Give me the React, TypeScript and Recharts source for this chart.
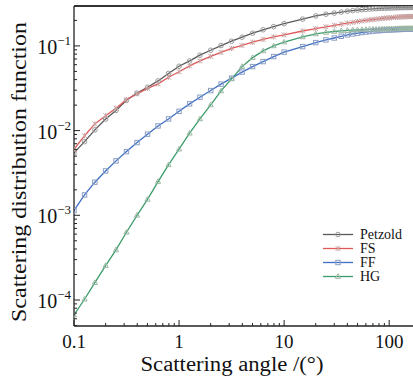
import { Line, LineChart, ReferenceLine, XAxis, YAxis } from "recharts";

// scattering angle (degrees)
const angles = [
    0.1, 0.126, 0.158, 0.2, 0.251, 0.316, 0.398, 0.501, 0.631, 0.794,
    1, 1.26, 1.58, 2, 2.51, 3.16, 3.98, 5.01, 6.31, 7.94,
    10, 15, 20, 25, 30, 35, 40, 45, 50, 55, 60, 65, 70, 75, 80, 85, 90, 95,
    100, 105, 110, 115, 120, 125, 130, 135, 140, 145, 150, 155, 160, 165, 170, 175, 180,
];

const petzold = [
    0.00545, 0.0074, 0.0102, 0.0137, 0.0173, 0.0228, 0.0277, 0.0325, 0.0386, 0.0473,
    0.0575, 0.0665, 0.0777, 0.0889, 0.101, 0.1136, 0.1267, 0.1413, 0.155, 0.169,
    0.183, 0.207, 0.226, 0.237, 0.244, 0.251, 0.257, 0.261, 0.265, 0.268, 0.270, 0.272, 0.274, 0.2755, 0.277, 0.278, 0.279, 0.2798,
    0.2805, 0.281, 0.2815, 0.282, 0.2824, 0.2828, 0.2832, 0.2835, 0.2838, 0.284, 0.2842, 0.2844, 0.2846, 0.2847, 0.2848, 0.2849, 0.285,
];

const fs = [
    0.006, 0.0087, 0.012, 0.015, 0.0184, 0.0232, 0.0272, 0.0315, 0.0356, 0.0427,
    0.0495, 0.058, 0.0665, 0.0752, 0.0838, 0.0934, 0.1013, 0.1106, 0.1193, 0.1277,
    0.1348, 0.150, 0.160, 0.168, 0.175, 0.181, 0.186, 0.190, 0.194, 0.197, 0.200, 0.203, 0.205, 0.207, 0.209, 0.211, 0.212, 0.214,
    0.215, 0.216, 0.217, 0.218, 0.219, 0.2195, 0.220, 0.2205, 0.221, 0.2215, 0.222, 0.2223, 0.2226, 0.2228, 0.223, 0.2231, 0.2232,
];

const ff = [
    0.00114, 0.00174, 0.00246, 0.00334, 0.00439, 0.00565, 0.00722, 0.00907, 0.01136, 0.01374,
    0.0169, 0.0207, 0.0248, 0.0297, 0.0354, 0.0416, 0.0491, 0.057, 0.0653, 0.0749,
    0.0845, 0.0982, 0.1094, 0.1177, 0.124, 0.130, 0.135, 0.1385, 0.1415, 0.144, 0.146, 0.1478, 0.1493, 0.1505, 0.1516, 0.1525, 0.1533, 0.154,
    0.1546, 0.1551, 0.1555, 0.1559, 0.1562, 0.1565, 0.1567, 0.1569, 0.1571, 0.1573, 0.1574, 0.1575, 0.1576, 0.1577, 0.1577, 0.1578, 0.1578,
];

const hg = [
    0.0000667, 0.000102, 0.00016, 0.000255, 0.00039, 0.00063, 0.001, 0.00154, 0.0025, 0.00394,
    0.00603, 0.00931, 0.01374, 0.0201, 0.0294, 0.0408, 0.057, 0.0727, 0.0873, 0.1,
    0.111, 0.1277, 0.1386, 0.1442, 0.148, 0.1505, 0.1524, 0.1537, 0.1547, 0.1555, 0.1562, 0.1568, 0.1573, 0.1577, 0.158, 0.1583, 0.1586, 0.1588,
    0.159, 0.1592, 0.1594, 0.1596, 0.1598, 0.1599, 0.16, 0.1601, 0.1602, 0.1603, 0.1604, 0.1605, 0.1606, 0.1607, 0.1608, 0.1609, 0.161,
];

const xTicks = [
    0.1, 0.2, 0.3, 0.4, 0.5, 0.6, 0.7, 0.8, 0.9,
    1, 2, 3, 4, 5, 6, 7, 8, 9,
    10, 20, 30, 40, 50, 60, 70, 80, 90, 100,
];
const xTickLabels: Record<string, string> = { "0.1": "0.1", "1": "1", "10": "10", "100": "100" };

const yTicks = [
    0.00005, 0.00006, 0.00007, 0.00008, 0.00009,
    0.0001, 0.0002, 0.0003, 0.0004, 0.0005, 0.0006, 0.0007, 0.0008, 0.0009,
    0.001, 0.002, 0.003, 0.004, 0.005, 0.006, 0.007, 0.008, 0.009,
    0.01, 0.02, 0.03, 0.04, 0.05, 0.06, 0.07, 0.08, 0.09,
    0.1, 0.2,
];
const yTickExponents: Record<string, string> = { "0.0001": "−4", "0.001": "−3", "0.01": "−2", "0.1": "−1" };

const series = [
    { key: "petzold", name: "Petzold", line: "#595959", mark: "#9a9a9a", shape: "circle" },
    { key: "fs", name: "FS", line: "#e05a5a", mark: "#c9a3a3", shape: "cross" },
    { key: "ff", name: "FF", line: "#3d6fc4", mark: "#8b9dc4", shape: "square" },
    { key: "hg", name: "HG", line: "#3c9d6c", mark: "#9cb8a4", shape: "triangle" },
];

const data = angles.map((a, i) => ({
    angle: a,
    petzold: petzold[i],
    fs: fs[i],
    ff: ff[i],
    hg: hg[i],
}));

const W = 420;
const H = 382;
const LEFT = 74;
const TOP = 6;
const BOTTOM = 326;
const Y_MIN = 0.0000493;
const Y_MAX = 0.296;
const FONT = "Liberation Serif, serif";
const serif = { fontFamily: FONT };

function Marker({ x, y, shape, color }: { x: number; y: number; shape: string; color: string }) {
    if (shape === "circle") {
        return <circle cx={x} cy={y} r={2.3} fill="none" stroke={color} strokeWidth={1} />;
    }
    if (shape === "square") {
        return <rect x={x - 2.2} y={y - 2.2} width={4.4} height={4.4} fill="none" stroke={color} strokeWidth={1} />;
    }
    if (shape === "triangle") {
        return (
            <polygon
                points={`${x},${y - 2.8} ${x - 2.6},${y + 1.8} ${x + 2.6},${y + 1.8}`}
                fill="none"
                stroke={color}
                strokeWidth={1}
            />
        );
    }
    return (
        <g stroke={color} strokeWidth={1}>
            <line x1={x - 2.4} y1={y - 2.4} x2={x + 2.4} y2={y + 2.4} />
            <line x1={x - 2.4} y1={y + 2.4} x2={x + 2.4} y2={y - 2.4} />
            <line x1={x} y1={y - 2.6} x2={x} y2={y + 2.6} />
        </g>
    );
}

function XTick(props: any) {
    const { x, payload } = props;
    const label = xTickLabels[String(payload.value)];
    return (
        <g>
            <line x1={x} x2={x} y1={BOTTOM} y2={BOTTOM - (label ? 6 : 3)} stroke="#222" strokeWidth={1} />
            {label && (
                <text x={x} y={348} textAnchor="middle" fontSize={19} style={serif} fill="#111">
                    {label}
                </text>
            )}
        </g>
    );
}

function YTick(props: any) {
    const { y, payload } = props;
    const exp = yTickExponents[String(payload.value)];
    return (
        <g>
            <line x1={LEFT} x2={LEFT + (exp ? 6 : 3)} y1={y} y2={y} stroke="#222" strokeWidth={1} />
            {exp && (
                <text x={71} y={y + 8} textAnchor="end" fontSize={20} style={serif} fill="#111">
                    10
                    <tspan dy={-9} fontSize={13}>
                        {exp}
                    </tspan>
                </text>
            )}
        </g>
    );
}

export default function App() {
    return (
        <div
            style={{
                position: "absolute",
                left: 0,
                top: 0,
                width: 413,
                height: 382,
                overflow: "hidden",
                background: "#fff",
                fontFamily: FONT,
            }}
        >
            <LineChart
                width={W}
                height={H}
                data={data}
                margin={{ top: TOP, right: 4, left: 0, bottom: 0 }}
            >
                <XAxis
                    dataKey="angle"
                    type="number"
                    scale="log"
                    domain={[0.1, 180]}
                    allowDataOverflow
                    ticks={xTicks}
                    interval={0}
                    tick={<XTick />}
                    tickLine={false}
                    axisLine={{ stroke: "#222", strokeWidth: 1.3 }}
                    height={H - BOTTOM}
                />
                <YAxis
                    type="number"
                    scale="log"
                    domain={[Y_MIN, Y_MAX]}
                    allowDataOverflow
                    ticks={yTicks}
                    interval={0}
                    tick={<YTick />}
                    tickLine={false}
                    axisLine={{ stroke: "#222", strokeWidth: 1.3 }}
                    width={LEFT}
                />
                <ReferenceLine y={Y_MAX} stroke="#333" strokeWidth={2} />
                {series.map((s) => (
                    <Line
                        key={s.key}
                        dataKey={s.key}
                        name={s.name}
                        type="linear"
                        stroke={s.line}
                        strokeWidth={1.3}
                        isAnimationActive={false}
                        activeDot={false}
                        dot={(p: any) => (
                            <Marker key={`${s.key}-${p.index}`} x={p.cx} y={p.cy} shape={s.shape} color={s.mark} />
                        )}
                    />
                ))}
            </LineChart>
            <svg
                width={413}
                height={382}
                style={{ position: "absolute", left: 0, top: 0, pointerEvents: "none" }}
            >
                <text
                    transform="rotate(-90)"
                    x={-172}
                    y={26}
                    textAnchor="middle"
                    fontSize={21}
                    style={serif}
                    fill="#111"
                    textLength={300}
                    lengthAdjust="spacingAndGlyphs"
                >
                    Scattering distribution function
                </text>
                <text
                    x={232}
                    y={371}
                    textAnchor="middle"
                    fontSize={20}
                    style={serif}
                    fill="#111"
                    textLength={183}
                    lengthAdjust="spacingAndGlyphs"
                >
                    Scattering angle /(°)
                </text>
                {series.map((s, i) => {
                    const y = 234.5 + i * 14;
                    return (
                        <g key={s.key}>
                            <line x1={323} x2={353} y1={y} y2={y} stroke={s.line} strokeWidth={1.3} />
                            <Marker x={338} y={y} shape={s.shape} color={s.mark} />
                            <text x={360} y={y + 4.5} fontSize={14} style={serif} fill="#111">
                                {s.name}
                            </text>
                        </g>
                    );
                })}
            </svg>
        </div>
    );
}
